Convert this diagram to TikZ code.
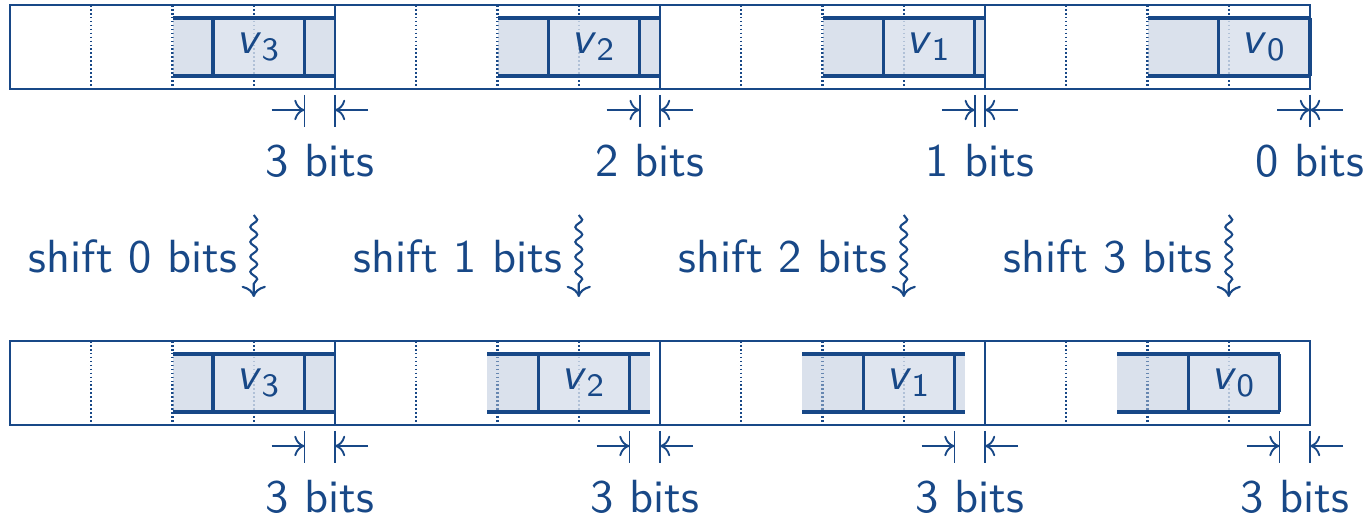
\documentclass[tikz,border=0pt]{standalone}
\usepackage{amsmath}
\usetikzlibrary{decorations.pathmorphing,arrows.meta,calc}
\definecolor{mc}{RGB}{24,72,135}
\begin{document}
\begin{tikzpicture}[x=0.215pt,y=-0.215pt,font=\sffamily,
  every node/.style={text=mc,inner sep=0pt},
  outerline/.style={draw=mc,line width=0.4pt},
  dotline/.style={draw=mc,line width=0.45pt,dash pattern=on 0.35pt off 0.5pt},
  padfill/.style={fill=mc!32,fill opacity=0.5},
  valfill/.style={fill=mc!12},
  fieldline/.style={draw=mc,line width=0.7pt},
  dimline/.style={draw=mc,line width=0.4pt},
  dimarrow/.style={draw=mc,line width=0.4pt,-{Computer Modern Rightarrow[length=2.2pt,width=4.4pt]}},
  shiftarrow/.style={draw=mc,line width=0.45pt,-{Computer Modern Rightarrow[length=2.4pt,width=5.2pt]},
    decorate,decoration={snake,amplitude=0.75pt,segment length=3.2pt,post length=2.6pt}},
  lbl/.style={anchor=base}]
\useasboundingbox (0,0) rectangle (1369,516);
\foreach \r/\yo in {0/5,1/341}{
  % dotted byte separators
  \foreach \k in {0,...,3}{
    \foreach \j in {1,2,3}{
      \pgfmathsetmacro\xd{10+325*\k+81.25*\j}
      \draw[dotline] (\xd,\yo) -- (\xd,\yo+84);
    }
  }
  % fields
  \foreach \k in {0,...,3}{
    \pgfmathsetmacro\xw{10+325*\k}
    \pgfmathsetmacro\xe{\xw+325}
    \pgfmathsetmacro\xr{\xw+325-\r*\k*325/32}
    \pgfmathsetmacro\xl{\xr-162.5}
    \pgfmathsetmacro\vr{\xr-(3-\k)*325/32}
    \pgfmathsetmacro\vl{\vr-9*325/32}
    \pgfmathsetmacro\xm{(\vr+\xe)/2}
    \pgfmathtruncatemacro\idx{3-\k}
    \pgfmathtruncatemacro\nb{3-\k+\r*\k}
    \coordinate (fa\r\k) at (\xl,\yo+13);
    \coordinate (fb\r\k) at (\xr,\yo+71);
    \coordinate (va\r\k) at (\vl,\yo+13);
    \coordinate (vb\r\k) at (\vr,\yo+71);
    \fill[padfill] (fa\r\k) rectangle (fb\r\k);
    \fill[valfill,fill opacity=0.6] (va\r\k) rectangle (vb\r\k);
    \draw[fieldline] (fa\r\k) -- (fa\r\k -| fb\r\k);
    \draw[fieldline] (fa\r\k |- fb\r\k) -- (fb\r\k);
    \draw[fieldline] (va\r\k) -- (va\r\k |- vb\r\k);
    \draw[fieldline] (vb\r\k |- va\r\k) -- (vb\r\k);
    \node (v\r\k) at ($(va\r\k)!0.5!(vb\r\k)$) {$\textsf{\textit{v}}_{\textsf{\idx}}$};
    % dimension marks
    \coordinate (ta\r\k) at (\vr,\yo+90);
    \coordinate (tb\r\k) at (\vr,\yo+122);
    \coordinate (tc\r\k) at (\xe,\yo+90);
    \coordinate (td\r\k) at (\xe,\yo+122);
    \coordinate (aa\r\k) at (\vr-33,\yo+105);
    \coordinate (ab\r\k) at (\vr,\yo+105);
    \coordinate (ac\r\k) at (\xe+33,\yo+105);
    \coordinate (ad\r\k) at (\xe,\yo+105);
    \draw[dimline] (ta\r\k) -- (tb\r\k);
    \draw[dimline] (tc\r\k) -- (td\r\k);
    \draw[dimarrow] (aa\r\k) -- (ab\r\k);
    \draw[dimarrow] (ac\r\k) -- (ad\r\k);
    \node[lbl] (d\r\k) at (\xm,\yo+172) {\nb\ bits};
  }
  % outer frame and word separators
  \draw[outerline] (10,\yo) rectangle (1310,\yo+84);
  \foreach \k in {1,2,3}{
    \pgfmathsetmacro\xs{10+325*\k}
    \draw[outerline] (\xs,\yo) -- (\xs,\yo+84);
  }
}
% shift arrows
\foreach \k in {0,...,3}{
  \pgfmathsetmacro\xa{253.75+325*\k}
  \coordinate (sa\k) at (\xa,215);
  \coordinate (sb\k) at (\xa,297);
  \draw[shiftarrow] (sa\k) -- (sb\k);
  \node[anchor=base east] (s\k) at (\xa-16,273) {shift \k\ bits};
}
\end{tikzpicture}
\end{document}
